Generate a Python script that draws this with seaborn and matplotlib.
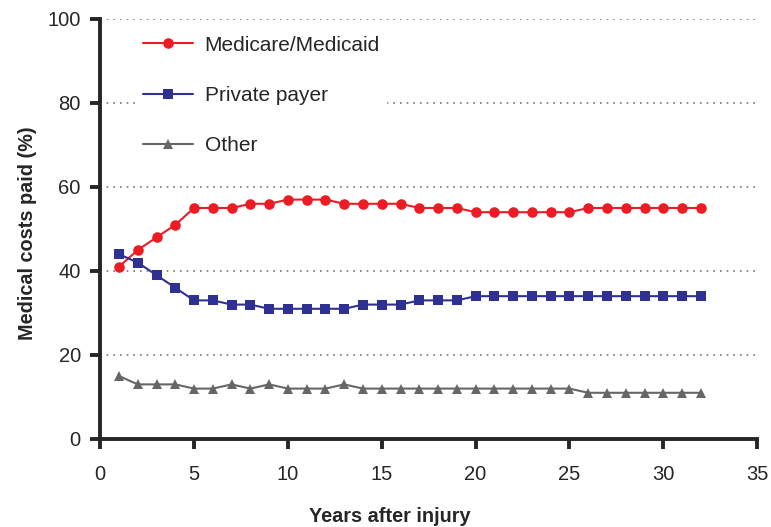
""" medical costs paid after injury """

import matplotlib
matplotlib.use("Agg")
import matplotlib.pyplot as plt
import pandas as pd
import seaborn as sns

years = list(range(1, 33))
medicare = [41, 45, 48, 51, 55, 55, 55, 56, 56, 57, 57, 57, 56, 56, 56, 56,
            55, 55, 55, 54, 54, 54, 54, 54, 54, 55, 55, 55, 55, 55, 55, 55]
private = [44, 42, 39, 36, 33, 33, 32, 32, 31, 31, 31, 31, 31, 32, 32, 32,
           33, 33, 33, 34, 34, 34, 34, 34, 34, 34, 34, 34, 34, 34, 34, 34]
other = [15, 13, 13, 13, 12, 12, 13, 12, 13, 12, 12, 12, 13, 12, 12, 12,
         12, 12, 12, 12, 12, 12, 12, 12, 12, 11, 11, 11, 11, 11, 11, 11]
series_names = ["Medicare/Medicaid", "Private payer", "Other"]
colors = ["#ED1C24", "#2E3192", "#666666"]
markers = ["o", "s", "^"]
marker_sizes = [7.6, 7.2, 6.5]

df = pd.DataFrame({
    "year": years * 3,
    "pct": medicare + private + other,
    "payer": [n for n in series_names for _ in years],
})

sns.set_style("ticks")
plt.rcParams["font.family"] = ["Liberation Sans", "DejaVu Sans"]

fig, ax = plt.subplots(figsize=(7.71, 5.27), dpi=100)
fig.subplots_adjust(left=0.13, right=0.982, top=0.964, bottom=0.167)

for name, col, mk, ms in zip(series_names, colors, markers, marker_sizes):
    sub = df[df["payer"] == name]
    sns.lineplot(data=sub, x="year", y="pct", ax=ax, color=col, marker=mk,
                 markersize=ms, markeredgewidth=0, linewidth=1.5, label=name,
                 zorder=3)

ax.set_xlim(0, 35)
ax.set_ylim(0, 100)
ax.set_xticks(range(0, 36, 5))
ax.set_yticks(range(0, 101, 20))
ax.yaxis.grid(True, linestyle=(0, (1, 3)), color="#777777", linewidth=1.2)
ax.set_axisbelow(True)
sns.despine(ax=ax)
for side in ("left", "bottom"):
    ax.spines[side].set_linewidth(2.8)
ax.tick_params(axis="both", width=2.8, length=7, labelsize=14.5,
               direction="out")
ax.tick_params(axis="x", pad=12)
ax.tick_params(axis="y", pad=7)

ax.set_xlabel("Years after injury", fontsize=14.3, fontweight="bold")
ax.xaxis.set_label_coords(0.44, -0.162)
ax.set_ylabel("Medical costs paid (%)", fontsize=14.3, fontweight="bold")
ax.yaxis.set_label_coords(-0.097, 0.49)

leg = ax.legend(loc="upper left", bbox_to_anchor=(0.04, 1.0), frameon=True,
                fontsize=15, handlelength=2.4, labelspacing=1.5,
                borderpad=0.3, handletextpad=0.55)
leg.get_frame().set_edgecolor("white")
leg.get_frame().set_facecolor("white")
leg.get_frame().set_alpha(1)
leg.set_zorder(5)

fig.savefig("out.png", dpi=100)
